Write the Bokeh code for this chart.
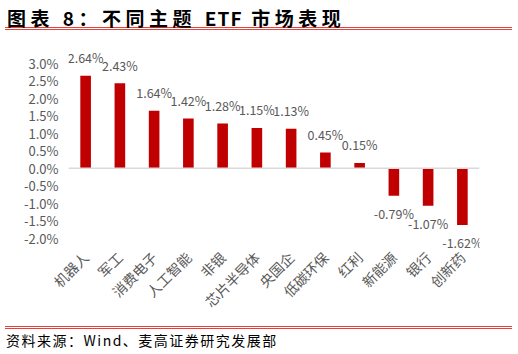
import math
from bokeh.plotting import figure
from bokeh.layouts import column
from bokeh.models import (ColumnDataSource, Range1d, FactorRange, FixedTicker,
                          Span, Div)
from bokeh.core.properties import value
from bokeh.embed import file_html
from bokeh.resources import INLINE

categories = ["机器人", "军工", "消费电子", "人工智能", "非银", "芯片半导体",
              "央国企", "低碳环保", "红利", "新能源", "银行", "创新药"]
returns_pct = [2.64, 2.43, 1.64, 1.42, 1.28, 1.15, 1.13, 0.45, 0.15, -0.79, -1.07, -1.62]
y_ticks = [-2.0, -1.5, -1.0, -0.5, 0.0, 0.5, 1.0, 1.5, 2.0, 2.5, 3.0]
y_tick_labels = ["-2.0%", "-1.5%", "-1.0%", "-0.5%", "0.0%", "0.5%", "1.0%",
                 "1.5%", "2.0%", "2.5%", "3.0%"]
title_parts = ["图表 8：不同主题 ", "ETF", " 市场表现"]
source_text = "资料来源：Wind、麦高证券研究发展部"

FONT = "Noto Sans CJK SC"
RED = "#C00000"
LINE_RED = "#E8413B"
GRAY = "#595959"

W = 518
TITLE_H, FIG_H, SRC_H = 36, 288, 30

src = ColumnDataSource(dict(
    cat=categories,
    val=returns_pct,
    lab=[f"{v:.2f}%" for v in returns_pct],
    yoff=[-18 if v >= 0 else 18 for v in returns_pct],
))

p = figure(width=W, height=FIG_H, output_backend="svg", toolbar_location=None,
           x_range=FactorRange(*categories, range_padding=0),
           y_range=Range1d(-2.351, 3.534),
           min_border_left=68, min_border_right=39,
           min_border_top=8, min_border_bottom=74, margin=0)
p.outline_line_color = None
p.xgrid.grid_line_color = None
p.ygrid.grid_line_color = None
p.background_fill_color = "white"
p.border_fill_color = "white"

p.vbar(x="cat", top="val", bottom=0, width=0.31, source=src,
       fill_color=RED, line_color=None)
p.add_layout(Span(location=0, dimension="width", line_color="#D9D9D9", line_width=1.5))

p.text(x="cat", y="val", text="lab", y_offset="yoff", source=src,
       text_align="center", text_baseline="middle",
       text_font=value(FONT), text_font_size="12.5px", text_color=GRAY)

p.yaxis.ticker = FixedTicker(ticks=y_ticks)
p.yaxis.major_label_overrides = {t: l for t, l in zip(y_ticks, y_tick_labels)}
p.yaxis.axis_line_color = None
p.yaxis.major_tick_line_color = None
p.yaxis.minor_tick_line_color = None
p.yaxis.major_tick_out = 0
p.yaxis.major_tick_in = 0
p.yaxis.minor_tick_out = 0
p.yaxis.major_label_standoff = 10
p.yaxis.major_label_text_font = FONT
p.yaxis.major_label_text_font_size = "13px"
p.yaxis.major_label_text_color = GRAY

p.xaxis.axis_line_color = None
p.xaxis.major_tick_line_color = None
p.xaxis.major_tick_out = 0
p.xaxis.major_tick_in = 0
p.xaxis.major_label_orientation = math.pi / 4
p.xaxis.major_label_standoff = 4
p.xaxis.major_label_text_font = FONT
p.xaxis.major_label_text_font_size = "14px"
p.xaxis.major_label_text_color = GRAY

rule = (f'<div style="margin-left:5px;width:507px;height:1px;background:{LINE_RED};"></div>'
        f'<div style="margin-left:5px;width:507px;height:1px;margin-top:1px;background:{LINE_RED};"></div>')

title_html = (f'{title_parts[0]}<span style="letter-spacing:1px;">{title_parts[1]}</span>'
              f'{title_parts[2]}')
title_div = Div(
    text=(f'<div style="font-family:\'{FONT}\';font-size:19px;font-weight:bold;color:#000;'
          f'letter-spacing:4.5px;height:24px;line-height:24px;padding-left:7px;padding-top:6px;'
          f'white-space:nowrap;">{title_html}</div>'
          + '<div style="height:3px;"></div>' + rule),
    width=W, height=TITLE_H, margin=0)

source_div = Div(
    text=('<div style="height:2px;"></div>' + rule +
          f'<div style="font-family:\'{FONT}\';font-size:14px;color:#000;height:20px;'
          f'letter-spacing:1.5px;line-height:20px;padding-left:6px;padding-top:1px;'
          f'white-space:nowrap;">{source_text}</div>'),
    width=W, height=SRC_H, margin=0)

layout = column(title_div, p, source_div, spacing=0, margin=0)

open("out.html", "w").write(file_html(layout, INLINE))
